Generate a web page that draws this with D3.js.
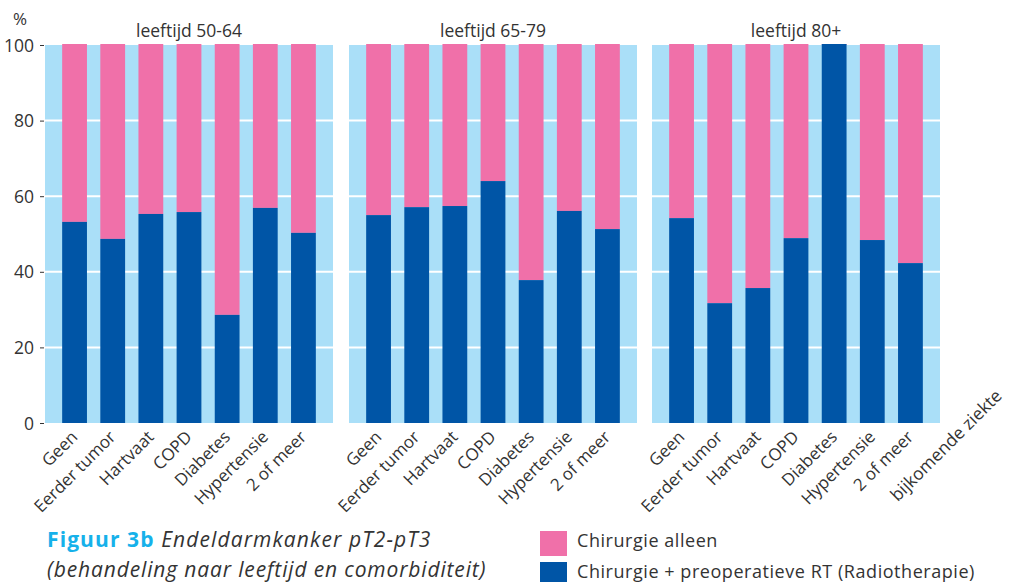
<!DOCTYPE html>
<html>
<head>
<meta charset="utf-8">
<script src="https://cdn.jsdelivr.net/npm/d3@7"></script>
<style>
  body { margin: 0; background: #fff; }
  svg text { font-family: "Open Sans", Lato, sans-serif; fill: #333; }
</style>
</head>
<body>
<svg id="chart" width="1013" height="582"></svg>
<script>
const panels = ["leeftijd 50-64", "leeftijd 65-79", "leeftijd 80+"];
const categories = ["Geen", "Eerder tumor", "Hartvaat", "COPD", "Diabetes", "Hypertensie", "2 of meer"];
// % Chirurgie + preoperatieve RT per panel; rest is Chirurgie alleen
const rtValues = [
  [53.2, 48.7, 55.3, 55.8, 28.6, 56.9, 50.3],
  [55.0, 57.1, 57.4, 64.0, 37.8, 56.1, 51.3],
  [54.2, 31.7, 35.7, 48.9, 100, 48.4, 42.3],
];
const yTicks = [0, 20, 40, 60, 80, 100];
const legendLabels = ["Chirurgie alleen", "Chirurgie + preoperatieve RT (Radiotherapie)"];

const colors = { bg: "#aadff8", alone: "#f070a9", rt: "#0055a6" };

const svg = d3.select("#chart");
const plotTop = 45, plotBottom = 423;
const panelX = [45, 349, 652];
const panelW = 288;

const y = d3.scaleLinear().domain([0, 100]).range([plotBottom, plotTop]);

// y axis
const yAxis = svg.append("g").attr("transform", "translate(44,0)")
  .call(d3.axisLeft(y).tickValues(yTicks).tickSize(4).tickPadding(6));
yAxis.select(".domain").remove();
yAxis.selectAll("line").attr("stroke", "#333");
yAxis.selectAll("text").style("font-size", "17.5px").attr("dy", "0.35em");

svg.append("text").attr("x", 13).attr("y", 25).style("font-size", "17px").text("%");

panels.forEach((title, p) => {
  const x = d3.scaleBand().domain(categories)
    .range([panelX[p], panelX[p] + panelW])
    .paddingInner(0.35).paddingOuter(0.45);
  const g = svg.append("g");

  g.append("rect")
    .attr("x", panelX[p]).attr("y", plotTop)
    .attr("width", panelW).attr("height", plotBottom - plotTop)
    .attr("fill", colors.bg);

  g.selectAll(".grid").data(yTicks.filter((t) => t > 0 && t < 100)).join("line")
    .attr("x1", panelX[p]).attr("x2", panelX[p] + panelW)
    .attr("y1", (d) => y(d)).attr("y2", (d) => y(d))
    .attr("stroke", "#fff").attr("stroke-width", 2);

  const rows = categories.map((c, i) => ({ cat: c, rt: rtValues[p][i] }));

  g.selectAll(".alone").data(rows).join("rect")
    .attr("x", (d) => x(d.cat)).attr("width", x.bandwidth())
    .attr("y", y(100) - 1).attr("height", (d) => y(d.rt) - y(100) + 1)
    .attr("fill", colors.alone);

  g.selectAll(".rt").data(rows).join("rect")
    .attr("x", (d) => x(d.cat)).attr("width", x.bandwidth())
    .attr("y", (d) => y(d.rt) - (d.rt === 100 ? 1 : 0))
    .attr("height", (d) => y(0) - y(d.rt) + (d.rt === 100 ? 1 : 0))
    .attr("fill", colors.rt);

  g.append("text")
    .attr("x", panelX[p] + panelW / 2).attr("y", 37)
    .attr("text-anchor", "middle").style("font-size", "17.5px")
    .text(title);

  const xAxis = g.append("g").attr("transform", `translate(0,${plotBottom})`)
    .call(d3.axisBottom(x).tickSize(0).tickPadding(0));
  xAxis.select(".domain").remove();
  xAxis.selectAll("text")
    .style("font-size", "17px")
    .attr("text-anchor", "end")
    .attr("dy", 0).attr("y", 0)
    .attr("transform", "translate(4,15) rotate(-45)");
});

svg.append("text")
  .attr("transform", "translate(1003,397) rotate(-45)")
  .attr("text-anchor", "end").style("font-size", "17.5px")
  .text("bijkomende ziekte");

// caption
const cap = svg.append("text").attr("x", 47).attr("y", 547)
  .style("font-size", "21px").style("letter-spacing", "1.1px");
cap.append("tspan").style("font-weight", "bold").style("fill", "#16b1ea").text("Figuur 3b ");
cap.append("tspan").style("font-style", "italic").text("Endeldarmkanker pT2-pT3");
svg.append("text").attr("x", 47).attr("y", 577)
  .style("font-size", "21px").style("letter-spacing", "0.85px")
  .style("font-style", "italic").text("(behandeling naar leeftijd en comorbiditeit)");

// legend
const legendColors = [colors.alone, colors.rt];
const leg = svg.append("g").selectAll("g").data(legendLabels).join("g")
  .attr("transform", (d, i) => `translate(540,${531 + i * 31})`);
leg.append("rect").attr("width", 27).attr("height", 25).attr("fill", (d, i) => legendColors[i]);
leg.append("text").attr("x", 37).attr("y", 16)
  .style("font-size", "18px").style("letter-spacing", "0.55px").text((d) => d);
</script>
</body>
</html>
